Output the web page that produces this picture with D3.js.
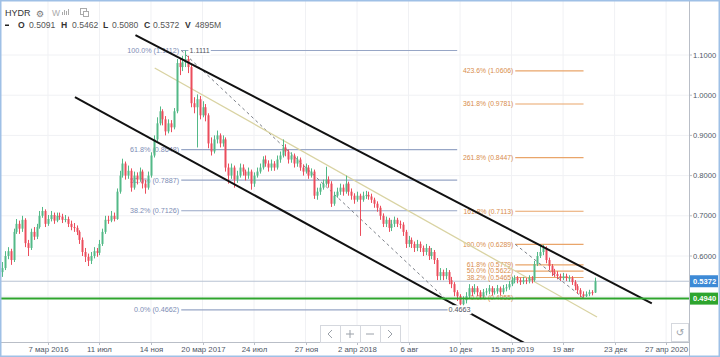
<!DOCTYPE html>
<html><head><meta charset="utf-8">
<script src="https://cdn.jsdelivr.net/npm/d3@7/dist/d3.min.js"></script>
<style>body{margin:0;background:#fff}svg{display:block;font-family:"Liberation Sans",Arial,sans-serif}</style>
</head><body><svg id="c" width="720" height="357"></svg>
<script>
// ---------- DATA ----------
const ticker = "HYDR";
const firstWeek = "2015-11-16";
const opens = [
0.560,0.570,0.600,0.612,0.590,0.660,0.680,0.668,0.690,0.632,
0.620,0.660,0.648,0.672,0.700,0.712,0.680,0.692,0.702,0.688,
0.700,0.698,0.690,0.692,0.680,0.672,0.670,0.660,0.640,0.610,
0.598,0.588,0.600,0.612,0.608,0.630,0.660,0.690,0.688,0.700,
0.692,0.760,0.800,0.830,0.800,0.812,0.770,0.800,0.790,0.810,
0.780,0.770,0.800,0.850,0.890,0.930,0.960,0.940,0.910,0.930,
0.920,0.960,1.080,1.070,1.082,1.090,1.070,0.980,0.970,0.990,
0.950,0.970,0.950,0.880,0.860,0.890,0.900,0.880,0.890,0.820,
0.800,0.820,0.790,0.800,0.820,0.810,0.800,0.810,0.780,0.800,
0.810,0.820,0.840,0.830,0.820,0.830,0.820,0.840,0.850,0.870,
0.860,0.840,0.850,0.830,0.840,0.820,0.810,0.820,0.800,0.810,
0.750,0.760,0.770,0.780,0.790,0.780,0.730,0.750,0.760,0.770,
0.760,0.780,0.760,0.750,0.740,0.750,0.740,0.750,0.752,0.748,
0.740,0.730,0.720,0.700,0.680,0.690,0.670,0.680,0.690,0.680,
0.678,0.660,0.630,0.640,0.630,0.620,0.630,0.620,0.610,0.620,
0.600,0.610,0.590,0.550,0.560,0.550,0.560,0.540,0.530,0.510,
0.500,0.480,0.490,0.500,0.520,0.510,0.520,0.510,0.500,0.510,
0.512,0.520,0.510,0.512,0.520,0.510,0.520,0.522,0.530,0.540,
0.545,0.540,0.535,0.540,0.538,0.545,0.540,0.580,0.600,0.610,
0.620,0.590,0.575,0.560,0.555,0.550,0.545,0.550,0.545,0.545,
0.535,0.525,0.515,0.505,0.500,0.505,0.510,0.5091];
const highs = [
0.585,0.612,0.622,0.618,0.668,0.692,0.688,0.700,0.694,0.640,
0.668,0.672,0.680,0.712,0.722,0.716,0.702,0.712,0.708,0.708,
0.708,0.705,0.702,0.698,0.688,0.682,0.676,0.664,0.646,0.620,
0.606,0.610,0.622,0.620,0.640,0.668,0.700,0.700,0.712,0.708,
0.768,0.812,0.842,0.835,0.825,0.818,0.810,0.808,0.820,0.815,
0.790,0.810,0.858,0.900,0.945,0.972,0.965,0.948,0.940,0.938,
0.968,1.090,1.092,1.098,1.1112,1.098,1.075,0.995,1.002,0.998,
0.985,0.978,0.955,0.895,0.900,0.912,0.905,0.900,0.895,0.830,
0.830,0.825,0.812,0.830,0.828,0.815,0.820,0.815,0.808,0.820,
0.830,0.848,0.850,0.838,0.840,0.836,0.850,0.860,0.890,0.878,
0.865,0.858,0.855,0.848,0.845,0.828,0.830,0.826,0.818,0.815,
0.770,0.780,0.790,0.822,0.798,0.786,0.760,0.770,0.780,0.778,
0.800,0.785,0.768,0.756,0.760,0.755,0.760,0.762,0.760,0.755,
0.745,0.736,0.725,0.706,0.698,0.695,0.690,0.698,0.695,0.688,
0.684,0.665,0.650,0.646,0.636,0.640,0.636,0.626,0.630,0.625,
0.620,0.615,0.595,0.570,0.566,0.570,0.565,0.548,0.535,0.515,
0.505,0.500,0.510,0.530,0.525,0.530,0.525,0.515,0.518,0.520,
0.528,0.525,0.520,0.528,0.524,0.528,0.530,0.538,0.548,0.552,
0.550,0.546,0.548,0.546,0.552,0.550,0.588,0.610,0.6289,0.628,
0.624,0.596,0.580,0.568,0.562,0.556,0.558,0.556,0.552,0.550,
0.540,0.530,0.520,0.512,0.512,0.516,0.515,0.5462];
const lows = [
0.548,0.565,0.592,0.578,0.585,0.655,0.655,0.660,0.622,0.600,
0.615,0.640,0.642,0.668,0.695,0.672,0.675,0.686,0.680,0.684,
0.690,0.682,0.684,0.672,0.664,0.660,0.652,0.630,0.600,0.585,
0.575,0.580,0.594,0.598,0.602,0.625,0.655,0.680,0.684,0.686,
0.690,0.755,0.795,0.790,0.792,0.760,0.765,0.778,0.785,0.768,
0.755,0.765,0.795,0.845,0.885,0.925,0.925,0.900,0.905,0.908,
0.915,0.955,1.050,1.060,1.070,1.055,0.970,0.955,0.870,0.940,
0.945,0.935,0.868,0.850,0.855,0.880,0.870,0.872,0.810,0.780,
0.792,0.770,0.782,0.795,0.800,0.788,0.792,0.765,0.772,0.795,
0.805,0.815,0.822,0.810,0.812,0.812,0.815,0.832,0.845,0.848,
0.830,0.832,0.820,0.822,0.812,0.800,0.805,0.792,0.795,0.742,
0.740,0.752,0.765,0.775,0.770,0.722,0.725,0.745,0.752,0.750,
0.755,0.750,0.740,0.730,0.735,0.650,0.735,0.742,0.740,0.732,
0.720,0.710,0.690,0.672,0.672,0.660,0.662,0.672,0.672,0.668,
0.650,0.620,0.622,0.620,0.610,0.612,0.610,0.600,0.602,0.590,
0.592,0.580,0.540,0.540,0.540,0.542,0.530,0.520,0.500,0.488,
0.4663,0.472,0.482,0.495,0.500,0.505,0.500,0.492,0.495,0.502,
0.505,0.502,0.504,0.506,0.502,0.505,0.512,0.516,0.525,0.532,
0.532,0.528,0.530,0.530,0.532,0.532,0.536,0.575,0.595,0.602,
0.582,0.565,0.550,0.548,0.542,0.538,0.540,0.538,0.536,0.528,
0.515,0.506,0.498,0.4965,0.498,0.500,0.502,0.5080];
const closes = [
0.570,0.600,0.612,0.590,0.660,0.680,0.668,0.690,0.632,0.620,
0.660,0.648,0.672,0.700,0.712,0.680,0.692,0.702,0.688,0.700,
0.698,0.690,0.692,0.680,0.672,0.670,0.660,0.640,0.610,0.598,
0.588,0.600,0.612,0.608,0.630,0.660,0.690,0.688,0.700,0.692,
0.760,0.800,0.830,0.800,0.812,0.770,0.800,0.790,0.810,0.780,
0.770,0.800,0.850,0.890,0.930,0.960,0.940,0.910,0.930,0.920,
0.960,1.080,1.070,1.082,1.090,1.070,0.980,0.970,0.990,0.950,
0.970,0.950,0.880,0.860,0.890,0.900,0.880,0.890,0.820,0.800,
0.820,0.790,0.800,0.820,0.810,0.800,0.810,0.780,0.800,0.810,
0.820,0.840,0.830,0.820,0.830,0.820,0.840,0.850,0.870,0.860,
0.840,0.850,0.830,0.840,0.820,0.810,0.820,0.800,0.810,0.750,
0.760,0.770,0.780,0.790,0.780,0.730,0.750,0.760,0.770,0.760,
0.780,0.760,0.750,0.740,0.750,0.740,0.750,0.752,0.748,0.740,
0.730,0.720,0.700,0.680,0.690,0.670,0.680,0.690,0.680,0.678,
0.660,0.630,0.640,0.630,0.620,0.630,0.620,0.610,0.620,0.600,
0.610,0.590,0.550,0.560,0.550,0.560,0.540,0.530,0.510,0.500,
0.480,0.490,0.500,0.520,0.510,0.520,0.510,0.500,0.510,0.512,
0.520,0.510,0.512,0.520,0.510,0.520,0.522,0.530,0.540,0.545,
0.540,0.535,0.540,0.538,0.545,0.540,0.580,0.600,0.610,0.620,
0.590,0.575,0.560,0.555,0.550,0.545,0.550,0.545,0.545,0.535,
0.525,0.515,0.505,0.500,0.505,0.510,0.5091,0.5372];
const lastVolume = "4895M";

const xTickDates  = ["2016-03-07","2016-07-11","2016-11-14","2017-03-20","2017-07-24","2017-11-27","2018-04-02","2018-08-06","2018-12-10","2019-04-15","2019-08-19","2019-12-23","2020-04-27"];
const xTickLabels = ["7 мар 2016","11 июл","14 ноя","20 мар 2017","24 июл","27 ноя","2 апр 2018","6 авг","10 дек","15 апр 2019","19 авг","23 дек","27 апр 2020"];
const yTicks = [1.1, 1.0, 0.9, 0.8, 0.7, 0.6];
const yGrid = [1.1, 1.0, 0.9, 0.8, 0.7, 0.6, 0.5];

// Fibonacci retracement (high -> low)
const fib1Labels = ["100.0%","61.8%","50.0%","38.2%","0.0%"];
const fib1Prices = [1.1112, 0.8648, 0.7887, 0.7126, 0.4662];
const fib1Span = ["2017-01-27","2018-12-03"];
// Fibonacci extension levels
const fib2Labels = ["423.6%","361.8%","261.8%","161.8%","100.0%","61.8%","50.0%","38.2%","0.0%"];
const fib2Prices = [1.0606, 0.9781, 0.8447, 0.7113, 0.6289, 0.5779, 0.5622, 0.5465, 0.4955];
const fib2Span = ["2019-04-24","2019-10-08"];
// channel lines [date, price] pairs
const upperChannel = [["2016-10-07",1.1497],["2020-03-23",0.4821]];
const lowerChannel = [["2016-05-12",0.9955],["2019-05-30",0.3760]];
const midChannel   = [["2016-11-23",1.0677],["2019-11-10",0.4483]];
const supportPrice = 0.4940;
const lastPrice = 0.5372;
const highNote = ["2017-02-16", 1.1111];
const lowNote = ["2018-11-12", 0.4663];

// ---------- SCALES ----------
const P = d3.utcParse("%Y-%m-%d");
const W = 720, H = 357, plotR = 689, plotB = 342;
const x = d3.scaleUtc().domain([P("2015-11-18"), P("2020-06-22")]).range([3, plotR]);
const y = d3.scaleLinear().domain([0.6, 1.1]).range([256, 55]);
const start = P(firstWeek);
const data = closes.map((c, i) => ({d: d3.utcDay.offset(start, 7 * i), o: opens[i], h: highs[i], l: lows[i], c}));

const svg = d3.select("#c");
svg.append("rect").attr("width", W).attr("height", H).attr("fill", "#fff");
svg.append("defs").append("clipPath").attr("id", "pc").append("rect").attr("x", 0).attr("y", 0).attr("width", plotR).attr("height", plotB);
const g = svg.append("g").attr("clip-path", "url(#pc)");

// grid
g.selectAll(".vg").data(xTickDates).join("line").attr("x1", d => x(P(d))).attr("x2", d => x(P(d))).attr("y1", 0).attr("y2", plotB).attr("stroke", "#f0f1f4");
g.selectAll(".hg").data(yGrid).join("line").attr("x1", 0).attr("x2", plotR).attr("y1", d => y(d)).attr("y2", d => y(d)).attr("stroke", "#f0f1f4");

// last price line
g.append("line").attr("x1", 0).attr("x2", plotR).attr("y1", y(lastPrice)).attr("y2", y(lastPrice)).attr("stroke", "#b7c2d2").attr("stroke-width", 1);

// fib 1
const f1x1 = x(P(fib1Span[0])), f1x2 = x(P(fib1Span[1]));
fib1Prices.forEach((p, i) => {
  g.append("line").attr("x1", f1x1).attr("x2", f1x2).attr("y1", y(p)).attr("y2", y(p)).attr("stroke", "#97a6c6").attr("stroke-width", 1.2);
  g.append("text").attr("x", f1x1 - 2).attr("y", y(p) + 2.5).attr("text-anchor", "end").attr("font-size", 7.2).attr("fill", "#7d8db5").text(`${fib1Labels[i]} (${p.toFixed(4)})`);
});
g.append("line").attr("x1", f1x1).attr("y1", y(fib1Prices[0])).attr("x2", f1x2).attr("y2", y(fib1Prices[4])).attr("stroke", "#7b7f88").attr("stroke-dasharray", "3,3").attr("stroke-width", 1);
// fib 2
const f2x1 = x(P(fib2Span[0])), f2x2 = x(P(fib2Span[1]));
fib2Prices.forEach((p, i) => {
  g.append("line").attr("x1", f2x1).attr("x2", f2x2).attr("y1", y(p)).attr("y2", y(p)).attr("stroke", "#e9a56a").attr("stroke-width", 1.2);
  g.append("text").attr("x", f2x1 - 2).attr("y", y(p) + 2.3).attr("text-anchor", "end").attr("font-size", 6.8).attr("fill", "#d88d4c").text(`${fib2Labels[i]} (${p.toFixed(4)})`);
});
g.append("line").attr("x1", f2x1).attr("y1", y(fib2Prices[4])).attr("x2", f2x2).attr("y2", y(fib2Prices[8])).attr("stroke", "#7b7f88").attr("stroke-dasharray", "3,3").attr("stroke-width", 1);

// mid channel line
const seg = (arr, col, w) => g.append("line").attr("x1", x(P(arr[0][0]))).attr("y1", y(arr[0][1])).attr("x2", x(P(arr[1][0]))).attr("y2", y(arr[1][1])).attr("stroke", col).attr("stroke-width", w);
seg(midChannel, "#d9d3a2", 1.3);

// candles
const up = "#53b987", dn = "#eb4d5c";
const cg = g.append("g");
cg.selectAll(".wk").data(data).join("line")
  .attr("x1", d => Math.round(x(d.d)) + 0.5).attr("x2", d => Math.round(x(d.d)) + 0.5)
  .attr("y1", d => y(d.h)).attr("y2", d => y(d.l))
  .attr("stroke", d => d.c >= d.o ? up : dn).attr("stroke-width", 1);
cg.selectAll(".bd").data(data).join("rect")
  .attr("x", d => Math.round(x(d.d)) - 0.5).attr("width", 2)
  .attr("y", d => y(Math.max(d.o, d.c))).attr("height", d => Math.max(1, Math.abs(y(d.o) - y(d.c))))
  .attr("fill", d => d.c >= d.o ? up : dn);

// channel lines
seg(upperChannel, "#111", 2);
seg(lowerChannel, "#111", 2);

// support line
g.append("line").attr("x1", 0).attr("x2", plotR).attr("y1", y(supportPrice)).attr("y2", y(supportPrice)).attr("stroke", "#2ea52e").attr("stroke-width", 2);

// notes
function note(n) {
  const t = g.append("text").attr("x", x(P(n[0]))).attr("y", y(n[1]) + 2.5).attr("font-size", 7.2).attr("fill", "#50535e").text(n[1].toFixed(4));
  const b = t.node().getBBox();
  g.insert("rect", () => t.node()).attr("x", b.x - 1).attr("y", b.y).attr("width", b.width + 2).attr("height", b.height).attr("fill", "#fff");
}
note(highNote); note(lowNote);

// axes
svg.append("line").attr("x1", 0).attr("x2", plotR).attr("y1", plotB + 0.5).attr("y2", plotB + 0.5).attr("stroke", "#b9bec7");
svg.append("line").attr("x1", plotR + 0.5).attr("x2", plotR + 0.5).attr("y1", 0).attr("y2", H).attr("stroke", "#b9bec7");
xTickDates.forEach((d, i) => {
  const xx = Math.round(x(P(d))) + 0.5;
  svg.append("line").attr("x1", xx).attr("x2", xx).attr("y1", plotB).attr("y2", plotB + 3).attr("stroke", "#b9bec7");
  svg.append("text").attr("x", xx).attr("y", 352).attr("text-anchor", "middle").attr("font-size", 7.8).attr("fill", "#4f5866").text(xTickLabels[i]);
});
yTicks.forEach(v => {
  svg.append("line").attr("x1", plotR).attr("x2", plotR + 3).attr("y1", y(v)).attr("y2", y(v)).attr("stroke", "#b9bec7");
  svg.append("text").attr("x", 693).attr("y", y(v) + 2.6).attr("font-size", 7.6).attr("fill", "#4f5866").text(v.toFixed(4));
});
function tag(v, col) {
  svg.append("rect").attr("x", 690).attr("y", y(v) - 6).attr("width", 28).attr("height", 12).attr("fill", col);
  svg.append("text").attr("x", 693).attr("y", y(v) + 2.7).attr("font-size", 7.6).attr("font-weight", "bold").attr("fill", "#fff").text(v.toFixed(4));
}
tag(lastPrice, "#3d8ad6");
tag(supportPrice, "#2ea52e");

// header
const last = data[data.length - 1];
svg.append("text").attr("x", 5).attr("y", 16).attr("font-size", 9).attr("fill", "#333").text(ticker);
svg.append("text").attr("x", 36).attr("y", 16.5).attr("font-size", 9).attr("fill", "#777").attr("font-family", "DejaVu Sans").text("⚙");
svg.append("text").attr("x", 52).attr("y", 16).attr("font-size", 8.5).attr("fill", "#aaa").text("W");
[[62,3],[64,5],[66,4],[68,6]].forEach(([bx, bh]) => svg.append("rect").attr("x", bx).attr("y", 15 - bh).attr("width", 1).attr("height", bh).attr("fill", "#aaa"));
svg.append("rect").attr("x", 80.5).attr("y", 8.5).attr("width", 6).attr("height", 6).attr("fill", "none").attr("stroke", "#aaa");
svg.append("rect").attr("x", 83.5).attr("y", 11.5).attr("width", 5).attr("height", 5).attr("fill", "#fff").attr("stroke", "#aaa");
svg.append("rect").attr("x", 5).attr("y", 24.5).attr("width", 4).attr("height", 1.5).attr("fill", "#222");
const ohlc = [["O", last.o, 18, 29], ["H", last.h, 61, 72], ["L", last.l, 103, 112], ["C", last.c, 144, 153]];
ohlc.forEach(([k, v, kx, vx]) => {
  svg.append("text").attr("x", kx).attr("y", 28).attr("font-size", 8.6).attr("font-weight", "bold").attr("fill", "#333").text(k);
  svg.append("text").attr("x", vx).attr("y", 28).attr("font-size", 8.6).attr("fill", "#555").text(v.toFixed(4));
});
svg.append("text").attr("x", 185).attr("y", 28).attr("font-size", 8.6).attr("font-weight", "bold").attr("fill", "#333").text("V");
svg.append("text").attr("x", 195).attr("y", 28).attr("font-size", 8.6).attr("fill", "#555").text(lastVolume);

// nav buttons
const nav = svg.append("g");
[320, 340, 360, 380].forEach(bx => nav.append("rect").attr("x", bx + 0.5).attr("y", 325.5).attr("width", 20).attr("height", 17).attr("fill", "#fff").attr("stroke", "#d5d8de"));
nav.append("path").attr("d", "M332,330 L328,334 L332,338").attr("fill", "none").attr("stroke", "#9aa0a8");
nav.append("path").attr("d", "M346,334 L354,334 M350,330 L350,338").attr("fill", "none").attr("stroke", "#9aa0a8");
nav.append("path").attr("d", "M366,334 L374,334").attr("fill", "none").attr("stroke", "#9aa0a8");
nav.append("path").attr("d", "M388,330 L392,334 L388,338").attr("fill", "none").attr("stroke", "#9aa0a8");
svg.append("rect").attr("x", 671.5).attr("y", 323.5).attr("width", 17).attr("height", 18).attr("fill", "#fff").attr("stroke", "#d5d8de");
svg.append("text").attr("x", 680).attr("y", 336).attr("text-anchor", "middle").attr("font-size", 10).attr("fill", "#9aa0a8").attr("font-family", "DejaVu Sans").text("↺");

// frame
svg.append("rect").attr("x", 0.75).attr("y", 0.75).attr("width", W - 1.5).attr("height", H - 1.5).attr("fill", "none").attr("stroke", "#9fc0e6").attr("stroke-width", 1.5);
</script></body></html>
